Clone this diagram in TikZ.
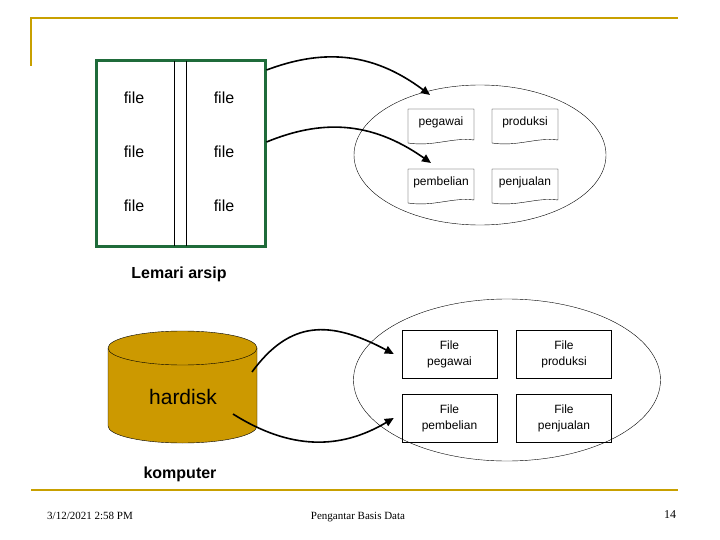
\documentclass[tikz,border=0pt]{standalone}
\usepackage{fontspec}
\setmainfont{Liberation Sans}
\newfontfamily\tms{Liberation Serif}
\usetikzlibrary{arrows.meta,shapes.geometric}
\definecolor{gold}{HTML}{C8A000}
\definecolor{dgreen}{HTML}{1F6B3A}
\definecolor{disk}{HTML}{CC9900}
\begin{document}
\begin{tikzpicture}[x=1pt,y=-1pt,
  lbl/.style={font=\fontsize{16}{18}\selectfont},
  doc/.style={font=\fontsize{12}{14}\selectfont},
  box/.style={draw,thin,minimum width=95pt,minimum height=48pt,align=center,font=\fontsize{12}{16}\selectfont},
  arr/.style={line width=1.6pt,-{Triangle[length=9pt,width=8pt]}}]
\useasboundingbox (0,0) rectangle (720,540);
% title rules
\draw[gold,line width=2pt] (31,66) -- (31,18) -- (678,18);
\draw[gold,line width=2pt] (31,490) -- (678,490);
% cabinet
\node[draw=dgreen,line width=3pt,minimum width=169pt,minimum height=185pt,inner sep=0] (lem) at (180.5,153.5) {};
\draw (174,61) -- (174,246) (186,61) -- (186,246);
\foreach \y/\n in {98/1,152/2,206/3}{
  \node[lbl] (fa\n) at (134,\y) {file};
  \node[lbl] (fb\n) at (224,\y) {file};}
\node[font=\bfseries\fontsize{16}{18}\selectfont] (lemlbl) at (179,274) {Lemari arsip};
% top ellipse
\node[draw,thin,ellipse,minimum width=252pt,minimum height=140pt] (e1) at (480,155) {};
\foreach \x/\y/\t/\n in {408/109/pegawai/d1,492/109/produksi/d2,408/169/pembelian/d3,492/169/penjualan/d4}{
  \draw[thin] (\x,\y) -- (\x+66,\y) -- (\x+66,\y+31) .. controls (\x+45,\y+28) and (\x+25,\y+38) .. (\x,\y+34) -- cycle;
  \node[doc] (\n) at (\x+33,\y+13) {\t};}
\coordinate (t1) at (430,95);
\coordinate (t2) at (431,163);
\draw[arr] (lem.east |- 0,70) .. controls (320,50) and (370,50) .. (t1);
\draw[arr] (lem.east |- 0,142) .. controls (320,120) and (370,120) .. (t2);
% cylinder
\fill[disk] (108,348) -- (108,426) arc[start angle=180,end angle=360,x radius=74.5pt,y radius=17pt] -- (257,348) -- cycle;
\draw[thin] (108,348) -- (108,426) arc[start angle=180,end angle=360,x radius=74.5pt,y radius=17pt] -- (257,348);
\draw[thin,fill=disk] (182.5,348) ellipse[x radius=74.5pt,y radius=17pt];
\node[font=\fontsize{21}{24}\selectfont] (hd) at (183,397) {hardisk};
\node[font=\bfseries\fontsize{16}{18}\selectfont] (komp) at (180,474) {komputer};
\coordinate (s1) at (252,372);
\coordinate (s2) at (233,414);
% bottom ellipse
\node[draw,thin,ellipse,minimum width=307pt,minimum height=162pt] (e2) at (507,380) {};
\node[box] (b1) at (449.5,354) {File\\pegawai};
\node[box] (b2) at (564,354) {File\\produksi};
\node[box] (b3) at (449.5,418) {File\\pembelian};
\node[box] (b4) at (564,418) {File\\penjualan};
\draw[arr] (s1) .. controls (290,320) and (330,320) .. ([xshift=-8pt]b1.west);
\draw[arr] (s2) .. controls (290,450) and (340,450) .. ([xshift=-8pt]b3.west);
% footer
\node[font=\tms\fontsize{11}{13}\selectfont] (date) at (90,516) {3/12/2021 2:58 PM};
\node[font=\tms\fontsize{11}{13}\selectfont] (ttl) at (358,517) {Pengantar Basis Data};
\node[font=\tms\fontsize{12}{14}\selectfont] (pg) at (670,515) {14};
\end{tikzpicture}
\end{document}
